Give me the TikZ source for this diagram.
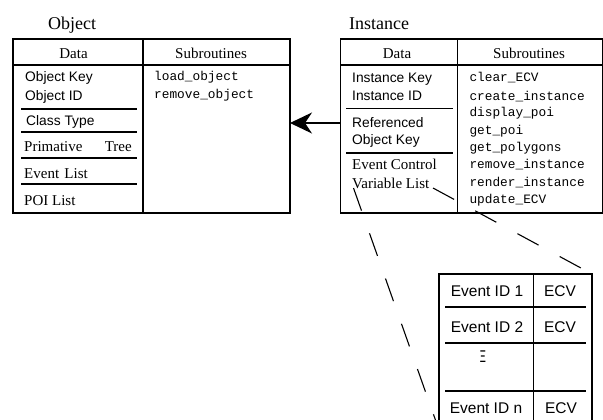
\documentclass[tikz,border=0pt]{standalone}
\usepackage{fontspec}
\setmainfont{Liberation Serif}
\setsansfont{Liberation Sans}
\setmonofont{Liberation Mono}
\usetikzlibrary{arrows.meta}
\newcommand\myS{\sffamily\fontsize{13.8}{16}\selectfont}
\newcommand\myBig{\sffamily\fontsize{15.5}{18}\selectfont}
\newcommand\myR{\rmfamily\fontsize{15}{18}\selectfont}
\newcommand\myM{\ttfamily\fontsize{12.8}{15}\selectfont}
\newcommand\myT{\rmfamily\fontsize{18}{21}\selectfont}
\begin{document}
\begin{tikzpicture}[x=1pt,y=-1pt,
  box/.style={draw, line width=1.1pt, inner sep=0pt, outer sep=0pt, anchor=north west},
  sep/.style={line width=1.4pt},
  hdr/.style={line width=1.1pt},
  tx/.style={inner sep=0pt, anchor=base west},
  txc/.style={inner sep=0pt, anchor=base},
  txe/.style={inner sep=0pt, anchor=base east},
  callout/.style={line width=1.1pt, dash pattern=on 24pt off 24pt},
  link/.style={line width=1pt, -{Stealth[length=22pt, width=21pt, inset=7pt]}}]
\useasboundingbox (0,0) rectangle (603,420);
\clip (0,0) rectangle (603,420);

% ---------- Object ----------
\node[tx] (objtitle) at (48,30) {\myT Object};
\node[box, minimum width=277pt, minimum height=174pt] (obj) at (13,39) {};
\draw[hdr] (obj.north west) ++(0,26) -- ++(277,0);
\draw[line width=1.1pt] (143,39) -- (143,213);
\node[txc] (objdata) at (73.5,59) {\myR Data};
\node[txc] (objsub) at (211,59) {\myR Subroutines};
\node[tx] (ok) at (25,81.7) {\myS Object Key};
\node[tx] (oid) at (25,100) {\myS Object ID};
\draw[sep] (21,109) -- (137,109);
\node[tx] (oct) at (26,125) {\myS Class Type};
\draw[sep] (21,132) -- (137,132);
\node[tx] (opt) at (24,151) {\myR Primative};
\node[txe] (opt2) at (132,151) {\myR Tree};
\draw[sep] (21,158) -- (137,158);
\node[tx] (oel) at (24,178) {\myR Event\hspace{1.5pt} List};
\draw[sep] (21,184) -- (137,184);
\node[tx] (opoi) at (24,205) {\myR POI List};
\node[tx] (olo) at (154,81) {\myM load\_object};
\node[tx] (oro) at (154,99) {\myM remove\_object};

% ---------- Instance ----------
\node[tx] (insttitle) at (349,29.5) {\myT Instance};
\node[box, minimum width=262pt, minimum height=174pt] (inst) at (340.5,39) {};
\draw[hdr] (inst.north west) ++(0,26) -- ++(262,0);
\draw[line width=1.1pt] (457.5,39) -- (457.5,213);
\node[txc] (instdata) at (397,59) {\myR Data};
\node[txc] (instsub) at (529,59) {\myR Subroutines};
\node[tx] (ik) at (352,83) {\myS Instance Key};
\node[tx] (iid) at (352,101) {\myS Instance ID};
\draw[sep] (346,108.5) -- (453,108.5);
\node[tx] (iref) at (352,128) {\myS Referenced};
\node[tx] (iok) at (352,144) {\myS Object Key};
\draw[sep] (346,153) -- (453,153);
\node[tx] (iec) at (352,169) {\myR Event Control};
\node[tx] (ivl) at (352,188) {\myR Variable List};
\node[tx] (s1) at (469.3,82) {\myM clear\_ECV};
\node[tx] (s2) at (469.3,100) {\myM create\_instance};
\node[tx] (s3) at (469.3,117) {\myM display\_poi};
\node[tx] (s4) at (469.3,134) {\myM get\_poi};
\node[tx] (s5) at (469.3,151) {\myM get\_polygons};
\node[tx] (s6) at (469.3,168) {\myM remove\_instance};
\node[tx] (s7) at (469.3,186) {\myM render\_instance};
\node[tx] (s8) at (469.3,203) {\myM update\_ECV};

% ---------- arrow Instance -> Object ----------
\coordinate (arrS) at (340.5,123);
\draw[link] (arrS) -- (arrS -| obj.east);

% ---------- Event table ----------
\node[box, minimum width=153pt, minimum height=156pt] (evt) at (439,274) {};
\draw[line width=1.1pt] (533.5,274) -- (533.5,430);
\draw[sep] (445,307) -- (586,307);
\draw[sep] (445,343) -- (586,343);
\draw[sep] (445,391) -- (586,391);
\node[txc] (e1) at (487,296.5) {\myBig Event ID 1};
\node[txc] (c1) at (560,296.5) {\myBig ECV};
\node[txc] (e2) at (487,332.5) {\myBig Event ID 2};
\node[txc] (c2) at (560,332.5) {\myBig ECV};
\node[inner sep=0pt, xscale=0.55] (edots) at (483,357) {\sffamily\fontsize{17}{19}\selectfont Ξ};
\node[txc] (en) at (486,413.5) {\myBig Event ID n};
\node[txc] (cn) at (561,413.5) {\myBig ECV};

% ---------- callout lines ----------
\coordinate (vlL) at (353.5,188);
\coordinate (vlR) at (433,188);
\draw[callout] (vlL) -- (evt.south west);
\draw[callout] (vlR) -- (evt.north east);
\end{tikzpicture}
\end{document}
